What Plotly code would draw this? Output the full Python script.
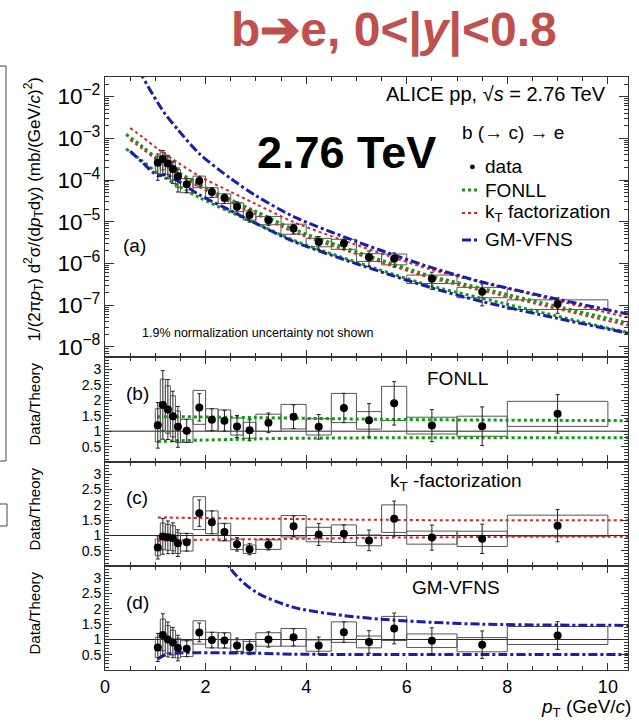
import plotly.graph_objects as go

# ---------------- data: b(->c)->e, pp 2.76 TeV ----------------
bin_edges = [1.0, 1.1, 1.2, 1.3, 1.4, 1.5, 1.75, 2.0, 2.25, 2.5, 2.75, 3.0,
             3.5, 4.0, 4.5, 5.0, 5.5, 6.0, 7.0, 8.0, 10.0]
cross_section = [2.6e-4, 3.2e-4, 2.5e-4, 1.83e-4, 1.23e-4, 7.9e-5, 9.5e-5,
                 5.2e-5, 3.7e-5, 2.3e-5, 1.46e-5, 1.09e-5, 6.9e-6, 3.27e-6,
                 3.0e-6, 1.42e-6, 1.31e-6, 4.3e-7, 2.1e-7, 1.07e-7]
stat_rel = [0.62, 0.60, 0.57, 0.55, 0.58, 0.37, 0.25, 0.26, 0.25, 0.31,
            0.33, 0.25, 0.26, 0.35, 0.27, 0.40, 0.37, 0.44, 0.54, 0.40]
syst_rel = [0.45, 0.45, 0.45, 0.45, 0.45, 0.37, 0.31, 0.26, 0.26, 0.24,
            0.25, 0.22, 0.27, 0.23, 0.27, 0.21, 0.29, 0.23, 0.28, 0.26]
ratio_fonll = [1.19, 1.85, 1.70, 1.48, 1.14, 1.01, 1.77, 1.37, 1.34, 1.15,
               1.03, 1.27, 1.47, 1.14, 1.75, 1.35, 1.90, 1.18, 1.16, 1.56]
ratio_kt = [0.61, 0.97, 0.94, 0.91, 0.75, 0.78, 1.73, 1.43, 1.11, 0.71,
            0.55, 0.70, 1.30, 1.03, 1.06, 0.84, 1.55, 0.93, 0.89, 1.32]
ratio_gmvfns = [0.74, 1.15, 1.00, 0.90, 0.72, 0.70, 1.23, 0.98, 0.97, 0.80,
                0.75, 1.00, 1.07, 0.80, 1.24, 0.92, 1.36, 0.96, 0.83, 1.13]

# ---------------- theory predictions ----------------
fonll_pt = [0.42, 0.75, 1.05, 1.45, 1.875, 2.5, 3.0, 3.75, 4.75, 5.75, 6.5, 7.5, 9.0, 10.4]
fonll_central = [8.5e-4, 4.27e-4, 2.19e-4, 1.07e-4, 5.37e-5, 2.34e-5, 1.23e-5,
                 4.68e-6, 1.74e-6, 6.9e-7, 3.63e-7, 1.86e-7, 6.9e-8, 2.8e-8]
fonll_up = [1.47, 1.47, 1.47, 1.47, 1.46, 1.45, 1.44, 1.42, 1.40, 1.38, 1.37, 1.36, 1.35, 1.34]
fonll_lo = [0.66, 0.66, 0.67, 0.69, 0.71, 0.73, 0.75, 0.77, 0.78, 0.79, 0.79, 0.79, 0.79, 0.79]

kt_pt = [0.5, 0.75, 1.05, 1.45, 1.875, 2.5, 3.0, 3.75, 4.75, 5.75, 6.5, 7.5, 9.0, 10.4]
kt_central = [1.11e-3, 6.7e-4, 3.5e-4, 1.66e-4, 7.9e-5, 3.35e-5, 1.72e-5,
              6.4e-6, 2.34e-6, 9.1e-7, 4.7e-7, 2.34e-7, 8.5e-8, 3.4e-8]
kt_up = [1.59, 1.59, 1.59, 1.58, 1.57, 1.56, 1.55, 1.54, 1.52, 1.51, 1.50, 1.50, 1.50, 1.50]
kt_lo = [0.83, 0.83, 0.83, 0.84, 0.86, 0.87, 0.88, 0.89, 0.91, 0.93, 0.94, 0.95, 0.96, 0.96]

gm_pt = [0.5, 0.75, 1.05, 1.2, 1.45, 1.875, 2.5, 3.0, 3.75, 4.75, 5.75, 6.5, 7.5, 9.0, 10.4]
gm_central = [1.10e-3, 6.5e-4, 3.55e-4, 2.7e-4, 1.70e-4, 7.8e-5, 3.3e-5, 1.66e-5,
              6.5e-6, 2.45e-6, 9.8e-7, 5.1e-7, 2.4e-7, 9.5e-8, 4.2e-8]
gm_up = [90, 45, 20, 14, 9.5, 5.5, 3.3, 2.55, 2.05, 1.78, 1.63, 1.56, 1.50, 1.47, 1.46]
gm_lo = [0.45, 0.40, 0.36, 0.50, 0.56, 0.57, 0.56, 0.55, 0.52, 0.51, 0.51, 0.51, 0.51, 0.51, 0.51]

x_ticks_major = 2
x_range = [0, 10.4]

# ---------------- colours / fonts ----------------
FONT = "Liberation Sans"
GREEN = "#139a13"
RED = "#d02828"
BLUE = "#1c1cae"
FRAME = "#333333"
BOX = "#555555"

W, H = 639, 724
ML, MR, MT, MB = 105, 11, 77, 54
PW, PH = W - ML - MR, H - MT - MB


def px_x(px):
    return (px - ML) / PW


def px_y(py):
    return (H - MB - py) / PH


pt_lo = bin_edges[:-1]
pt_hi = bin_edges[1:]
pt = [(a + b) / 2 for a, b in zip(pt_lo, pt_hi)]

fig = go.Figure()


def add_boxes(values, xa, ya):
    xs, ys = [], []
    for lo, hi, v, s in zip(pt_lo, pt_hi, values, syst_rel):
        ylo, yhi = v * (1 - s), v * (1 + s)
        xs += [lo, hi, hi, lo, lo, None]
        ys += [ylo, ylo, yhi, yhi, ylo, None]
    fig.add_trace(go.Scatter(x=xs, y=ys, mode="lines", xaxis=xa, yaxis=ya,
                             line=dict(color=BOX, width=1), hoverinfo="skip"))


def add_points(values, xa, ya):
    fig.add_trace(go.Scatter(
        x=pt, y=values, mode="markers", xaxis=xa, yaxis=ya,
        marker=dict(color="black", size=8),
        error_y=dict(type="data", array=[v * e for v, e in zip(values, stat_rel)],
                     color="#222222", thickness=1, width=2)))


def add_line(x, y, color, dash, width, xa, ya, smooth=True):
    fig.add_trace(go.Scatter(x=x, y=y, mode="lines", xaxis=xa, yaxis=ya,
                             line=dict(color=color, dash=dash, width=width,
                                       shape="spline" if smooth else "linear",
                                       smoothing=0.8),
                             hoverinfo="skip"))


# ---- panel (a): spectrum ----
add_boxes(cross_section, "x", "y")
for xs, c, up, lo, col, dash, w in [
        (fonll_pt, fonll_central, fonll_up, fonll_lo, GREEN, "dot", 3),
        (kt_pt, kt_central, kt_up, kt_lo, RED, "dot", 2),
        (gm_pt, gm_central, gm_up, gm_lo, BLUE, "dashdot", 3)]:
    add_line(xs, [v * f for v, f in zip(c, up)], col, dash, w, "x", "y")
    add_line(xs, [v * f for v, f in zip(c, lo)], col, dash, w, "x", "y")
add_points(cross_section, "x", "y")

# ---- ratio panels ----
for k, (ratio, xs, up, lo, col, dash, w) in enumerate([
        (ratio_fonll, fonll_pt, fonll_up, fonll_lo, GREEN, "dot", 3),
        (ratio_kt, kt_pt, kt_up, kt_lo, RED, "dot", 2),
        (ratio_gmvfns, gm_pt, gm_up, gm_lo, BLUE, "dashdot", 3)]):
    xa, ya = f"x{k + 2}", f"y{k + 2}"
    add_line(x_range, [1, 1], "#222222", "solid", 1, xa, ya, smooth=False)
    add_boxes(ratio, xa, ya)
    sel = [i for i, x in enumerate(xs) if x >= 1.05]
    add_line([xs[i] for i in sel], [up[i] for i in sel], col, dash, w, xa, ya)
    add_line([xs[i] for i in sel], [lo[i] for i in sel], col, dash, w, xa, ya)
    add_points(ratio, xa, ya)

# ---------------- axes ----------------
panels = [(77, 357), (357, 462), (462, 566), (566, 670)]
common = dict(showline=True, linecolor=FRAME, linewidth=1, mirror="ticks",
              ticks="inside", tickcolor=FRAME, showgrid=False, zeroline=False,
              tickfont=dict(family=FONT, color="black"))
layout = {}
for i, (top, bot) in enumerate(panels):
    sfx = "" if i == 0 else str(i + 1)
    layout["xaxis" + sfx] = dict(
        common, range=x_range, domain=[0, 1], anchor="y" + sfx,
        tick0=0, dtick=x_ticks_major, ticklen=7,
        minor=dict(dtick=0.5, ticklen=4, ticks="inside", tickcolor=FRAME),
        showticklabels=(i == 3), tickfont=dict(family=FONT, size=18, color="black"))
    dom = [px_y(bot), px_y(top)]
    if i == 0:
        layout["yaxis"] = dict(
            common, type="log", range=[-8.24, -1.53], domain=dom, anchor="x",
            dtick=1, exponentformat="power", showexponent="all", ticklen=9,
            minor=dict(dtick="D1", ticklen=4, ticks="inside", tickcolor=FRAME),
            tickfont=dict(family=FONT, size=18, color="black"))
    else:
        layout["yaxis" + sfx] = dict(
            common, range=[0.003, 3.4], domain=dom, anchor="x" + sfx,
            tick0=0, dtick=0.5, ticklen=7,
            minor=dict(dtick=0.1, ticklen=4, ticks="inside", tickcolor=FRAME),
            tickfont=dict(family=FONT, size=14, color="black"))

fig.update_layout(**layout)

# ---------------- text ----------------
ann = []


def text(t, x, y, size, xanchor="left", yanchor="middle", color="black",
         angle=0):
    ann.append(dict(text=t, x=px_x(x), y=px_y(y), xref="paper", yref="paper",
                    xanchor=xanchor, yanchor=yanchor, showarrow=False,
                    textangle=angle, font=dict(family=FONT, size=size, color=color)))


text("<b>b➔e, 0&lt;|<i>y</i>|&lt;0.8</b>", 394, 30, 48, "center", color="#C0504D")
text("<b>2.76 TeV</b>", 346, 152, 45, "center")
text("ALICE pp, √<i>s</i> = 2.76 TeV", 608, 94, 20, "right")
text("b (→ c) → e", 460, 132, 19)
text("●", 472, 166, 11, "center")
text("data", 483, 166, 19)
text("FONLL", 483, 190, 19)
text("k<sub>T</sub> factorization", 483, 213, 19)
text("GM-VFNS", 483, 240, 19)
text("(a)", 121, 245, 19)
text("1.9% normalization uncertainty not shown", 140, 333, 12.5)
text("(b)", 124, 393, 19)
text("FONLL", 425, 378, 19)
text("(c)", 124, 497, 19)
text("k<sub>T</sub> -factorization", 388, 482, 19)
text("(d)", 124, 602, 19)
text("GM-VFNS", 410, 587, 19)
text("<i>p</i><sub>T</sub> (GeV/<i>c</i>)", 633, 708, 19, "right")
text("1/(2π<i>p</i><sub>T</sub>) d<sup>2</sup>σ/(d<i>p</i><sub>T</sub>dy) (mb/(GeV/<i>c</i>)<sup>2</sup>)",
     34, 75, 17, "center", "top", angle=-90)
for top in (357, 462, 566):
    text("Data/Theory", 34, top + 4, 15, "center", "top", angle=-90)

# legend samples and the neighbouring frame edge on the far left
shapes = []
for y, col, dash, w in [(190, GREEN, "dot", 3), (213, RED, "dot", 2),
                        (240, BLUE, "dashdot", 3)]:
    shapes.append(dict(type="line", xref="paper", yref="paper",
                       x0=px_x(462), x1=px_x(477), y0=px_y(y), y1=px_y(y),
                       line=dict(color=col, dash=dash, width=w)))
for x0, y0, x1, y1 in [(6, 66, 6, 461), (0, 66, 6, 66), (0, 461, 6, 461),
                       (0, 504, 7, 504), (7, 504, 7, 526), (0, 526, 7, 526)]:
    shapes.append(dict(type="line", xref="paper", yref="paper",
                       x0=px_x(x0), x1=px_x(x1), y0=px_y(y0), y1=px_y(y1),
                       line=dict(color="#444444", width=1)))

fig.update_layout(
    width=W, height=H, margin=dict(l=ML, r=MR, t=MT, b=MB),
    paper_bgcolor="white", plot_bgcolor="white", showlegend=False,
    annotations=ann, shapes=shapes, font=dict(family=FONT))

fig.write_html("out.html")
